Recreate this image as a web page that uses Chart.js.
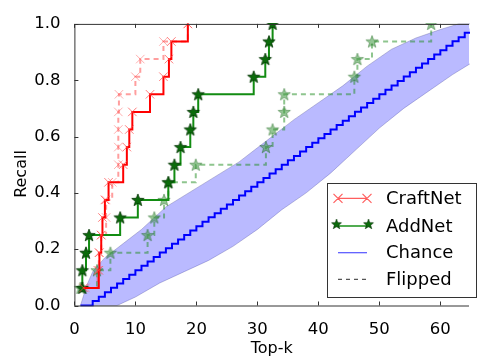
<!DOCTYPE html>
<html>
<head>
<meta charset="utf-8">
<script src="https://cdn.jsdelivr.net/npm/chart.js@4.4.1/dist/chart.umd.min.js"></script>
<style>
  html, body { margin: 0; padding: 0; background: #fff; }
  #wrap { width: 477px; height: 358px; }
</style>
</head>
<body>
<div id="wrap"><canvas id="chart" width="477" height="358"></canvas></div>
<script>
// tick labels
var kTicks = [0, 10, 20, 30, 40, 50, 60];
var recallTicks = [0, 0.2, 0.4, 0.6, 0.8, 1.0];

// recall levels (16 positives)
var recallLevels = [0.0625, 0.125, 0.1875, 0.25, 0.3125, 0.375, 0.4375, 0.5,
  0.5625, 0.625, 0.6875, 0.75, 0.8125, 0.875, 0.9375, 1.0];

// top-k at which each level is reached
var craftK     = [1.5, 4.0, 4.1, 4.4, 4.6, 5.0, 5.6, 8.0, 8.6, 9.0, 9.5, 12.4, 14.6, 15.5, 15.9, 18.6];
var craftFlipK = [1.8, 3.8, 4.0, 4.4, 5.2, 5.2, 6.2, 7.2, 7.2, 7.2, 7.2, 7.3, 10.0, 10.8, 14.6, 18.6];
var addK       = [1.3, 1.3, 1.9, 2.4, 7.5, 10.4, 15.4, 16.4, 17.4, 19.0, 19.5, 20.3, 29.4, 31.3, 31.9, 32.5];
var addFlipK   = [1.0, 3.7, 5.9, 12.0, 13.1, 14.7, 15.4, 19.9, 31.4, 32.5, 34.4, 34.4, 45.9, 46.4, 48.8, 58.5];

// chance staircase
var chanceK = [1, 2, 3, 4, 5, 6, 7, 8, 9, 10, 11, 12, 13, 14, 15, 16, 17, 18, 19, 20,
  21, 22, 23, 24, 25, 26, 27, 28, 29, 30, 31, 32, 33, 34, 35, 36, 37, 38, 39, 40,
  41, 42, 43, 44, 45, 46, 47, 48, 49, 50, 51, 52, 53, 54, 55, 56, 57, 58, 59, 60,
  61, 62, 63, 64, 65];
var chanceRecall = [0, 0, 0.016, 0.031, 0.047, 0.063, 0.078, 0.094, 0.109, 0.125,
  0.141, 0.156, 0.172, 0.188, 0.203, 0.219, 0.234, 0.25, 0.266, 0.281,
  0.297, 0.313, 0.328, 0.344, 0.359, 0.375, 0.391, 0.406, 0.422, 0.438,
  0.453, 0.469, 0.484, 0.5, 0.516, 0.531, 0.547, 0.563, 0.578, 0.594,
  0.609, 0.625, 0.641, 0.656, 0.672, 0.688, 0.703, 0.719, 0.734, 0.75,
  0.766, 0.781, 0.797, 0.813, 0.828, 0.844, 0.859, 0.875, 0.891, 0.906,
  0.922, 0.938, 0.953, 0.969, 0.984];

// chance band edges
var bandUpperK = [1, 2, 3, 5, 8, 11, 13, 15, 18, 21, 24, 27, 30, 33, 36, 40, 44, 48, 52, 56, 60, 63, 65];
var bandUpperRecall = [0.0, 0.07, 0.12, 0.17, 0.22, 0.27, 0.31, 0.35, 0.39, 0.43, 0.47, 0.51,
  0.56, 0.61, 0.66, 0.72, 0.78, 0.85, 0.91, 0.95, 0.98, 1.0, 1.0];
var bandLowerK = [1, 4, 7, 10, 14, 18, 22, 26, 30, 34, 38, 42, 46, 50, 54, 58, 62, 65];
var bandLowerRecall = [0.0, 0.0, 0.0, 0.03, 0.08, 0.12, 0.16, 0.21, 0.27, 0.34, 0.40,
  0.47, 0.55, 0.63, 0.70, 0.76, 0.82, 0.86];

var FONT = '"DejaVu Sans", sans-serif';

function pts(xs, ys) {
  return xs.map(function (x, i) { return { x: x, y: ys[i] }; });
}

// filled star marker like matplotlib '*'
function makeStar(fill, stroke) {
  var c = document.createElement('canvas');
  c.width = 16; c.height = 16;
  var g = c.getContext('2d');
  g.beginPath();
  for (var i = 0; i < 10; i++) {
    var r = i % 2 === 0 ? 6.5 : 2.7;
    var a = -Math.PI / 2 + i * Math.PI / 5;
    var px = 8 + r * Math.cos(a), py = 8.5 + r * Math.sin(a);
    if (i === 0) g.moveTo(px, py); else g.lineTo(px, py);
  }
  g.closePath();
  g.fillStyle = fill; g.fill();
  g.lineWidth = 0.8; g.strokeStyle = stroke; g.stroke();
  return c;
}
var starDark = makeStar('#0b6b0b', '#033303');
var starLight = makeStar('rgba(60,150,60,0.55)', 'rgba(0,80,0,0.45)');

var frame = {
  id: 'frame',
  afterDatasetsDraw: function (chart) {
    var ctx = chart.ctx, a = chart.chartArea;
    var xs = chart.scales.x, ys = chart.scales.y;
    ctx.save();
    ctx.strokeStyle = '#333';
    ctx.lineWidth = 1;
    ctx.beginPath();
    ctx.moveTo(a.right, a.top + 0.5); ctx.lineTo(a.left + 0.5, a.top + 0.5);
    ctx.lineTo(a.left + 0.5, a.bottom + 0.5); ctx.lineTo(a.right, a.bottom + 0.5);
    kTicks.forEach(function (v) {
      var px = Math.round(xs.getPixelForValue(v)) + 0.5;
      ctx.moveTo(px, a.bottom); ctx.lineTo(px, a.bottom - 4);
      ctx.moveTo(px, a.top); ctx.lineTo(px, a.top + 4);
    });
    recallTicks.forEach(function (v) {
      var py = Math.round(ys.getPixelForValue(v)) + 0.5;
      ctx.moveTo(a.left, py); ctx.lineTo(a.left + 4, py);
    });
    ctx.stroke();

    // y axis title
    ctx.fillStyle = '#000';
    ctx.font = '16px ' + FONT;
    ctx.textAlign = 'center';
    ctx.textBaseline = 'middle';
    ctx.translate(22, 174);
    ctx.rotate(-Math.PI / 2);
    ctx.fillText('Recall', 0, 0);
    ctx.restore();
  }
};

function drawX(ctx, x, y, r) {
  ctx.moveTo(x - r, y - r); ctx.lineTo(x + r, y + r);
  ctx.moveTo(x - r, y + r); ctx.lineTo(x + r, y - r);
}

var legendBox = {
  id: 'legendBox',
  afterDraw: function (chart) {
    var ctx = chart.ctx;
    var x0 = 327.5, y0 = 183.5, w = 149, h = 114;
    var lx1 = 338, lx2 = 367, tx = 386;
    var rows = [198.3, 226, 252.7, 279.3];
    ctx.save();
    ctx.fillStyle = '#fff';
    ctx.fillRect(x0, y0, w, h);
    ctx.strokeStyle = '#333';
    ctx.lineWidth = 1;
    ctx.strokeRect(x0, y0, w, h);

    // CraftNet
    ctx.strokeStyle = 'rgba(255,40,40,0.75)';
    ctx.lineWidth = 1.2;
    ctx.beginPath();
    ctx.moveTo(lx1, rows[0]); ctx.lineTo(lx2, rows[0]);
    drawX(ctx, lx1, rows[0], 4.5); drawX(ctx, lx2, rows[0], 4.5);
    ctx.stroke();
    // AddNet
    ctx.strokeStyle = '#179017';
    ctx.lineWidth = 1.5;
    ctx.beginPath();
    ctx.moveTo(lx1, rows[1]); ctx.lineTo(lx2, rows[1]);
    ctx.stroke();
    ctx.drawImage(starDark, lx1 - 8, rows[1] - 8.5, 13, 13);
    ctx.drawImage(starDark, lx2 - 5, rows[1] - 8.5, 13, 13);
    // Chance
    ctx.strokeStyle = 'rgba(40,40,255,0.8)';
    ctx.lineWidth = 1.2;
    ctx.beginPath();
    ctx.moveTo(lx1, rows[2]); ctx.lineTo(lx2, rows[2]);
    ctx.stroke();
    // Flipped
    ctx.strokeStyle = '#555';
    ctx.setLineDash([4, 4]);
    ctx.beginPath();
    ctx.moveTo(lx1, rows[3]); ctx.lineTo(lx2 + 2, rows[3]);
    ctx.stroke();
    ctx.setLineDash([]);

    ctx.fillStyle = '#000';
    ctx.font = '18px ' + FONT;
    ctx.textAlign = 'left';
    ctx.textBaseline = 'middle';
    ['CraftNet', 'AddNet', 'Chance', 'Flipped'].forEach(function (t, i) {
      ctx.fillText(t, tx, rows[i] + 1);
    });
    ctx.restore();
  }
};

new Chart(document.getElementById('chart'), {
  type: 'line',
  data: {
    datasets: [
      {
        label: 'CraftNet', data: pts(craftK, recallLevels), stepped: true,
        borderColor: '#ff0000', borderWidth: 2,
        pointStyle: 'crossRot', pointRadius: 6, pointBorderWidth: 1,
        pointBorderColor: 'rgba(255,70,70,0.7)', pointBackgroundColor: 'transparent',
        fill: false, order: 1, clip: 1
      },
      {
        label: 'AddNet', data: pts(addK, recallLevels), stepped: true,
        borderColor: '#128c12', borderWidth: 2,
        pointStyle: starDark, pointRadius: 6,
        fill: false, order: 2, clip: 1
      },
      {
        label: 'CraftNet flipped', data: pts(craftFlipK, recallLevels), stepped: true,
        borderColor: 'rgba(255,40,40,0.45)', borderWidth: 2, borderDash: [5, 4],
        pointStyle: 'crossRot', pointRadius: 6, pointBorderWidth: 1,
        pointBorderColor: 'rgba(255,80,80,0.45)', pointBackgroundColor: 'transparent',
        fill: false, order: 3, clip: 1
      },
      {
        label: 'AddNet flipped', data: pts(addFlipK, recallLevels), stepped: true,
        borderColor: 'rgba(30,140,30,0.5)', borderWidth: 2, borderDash: [5, 4],
        pointStyle: starLight, pointRadius: 6,
        fill: false, order: 4, clip: 1
      },
      {
        label: 'Chance', data: pts(chanceK, chanceRecall), stepped: true,
        borderColor: '#0000ff', borderWidth: 2, pointRadius: 0,
        fill: false, order: 5, clip: 1
      },
      {
        label: 'band upper', data: pts(bandUpperK, bandUpperRecall),
        borderColor: 'rgba(90,90,150,0.45)', borderWidth: 0.8, pointRadius: 0,
        backgroundColor: 'rgba(0,0,255,0.27)', fill: '+1', order: 6, clip: 1
      },
      {
        label: 'band lower', data: pts(bandLowerK, bandLowerRecall),
        borderColor: 'rgba(90,90,150,0.45)', borderWidth: 0.8, pointRadius: 0,
        fill: false, order: 7, clip: 1
      }
    ]
  },
  options: {
    responsive: false,
    animation: false,
    devicePixelRatio: 1,
    layout: { padding: { top: 13, right: 0, left: 0, bottom: 0 } },
    plugins: { legend: { display: false }, tooltip: { enabled: false } },
    scales: {
      x: {
        type: 'linear', min: 0, max: 64.7,
        afterBuildTicks: function (s) { s.ticks = kTicks.map(function (v) { return { value: v }; }); },
        afterFit: function (s) { s.height = 52.5; },
        grid: { display: false, drawTicks: false },
        border: { display: false },
        ticks: { color: '#000', font: { family: FONT, size: 16.5 }, padding: 14, maxRotation: 0 },
        title: { display: true, text: 'Top-k', color: '#000', font: { family: FONT, size: 16 }, padding: { top: 0, bottom: 0 } }
      },
      y: {
        type: 'linear', min: 0, max: 1,
        afterBuildTicks: function (s) { s.ticks = recallTicks.map(function (v) { return { value: v }; }); },
        afterFit: function (s) { s.width = 74.4; },
        grid: { display: false, drawTicks: false },
        border: { display: false },
        ticks: {
          color: '#000', font: { family: FONT, size: 16.5 }, padding: 14,
          callback: function (v) { return Number(v).toFixed(1); }
        }
      }
    }
  },
  plugins: [frame, legendBox]
});
</script>
</body>
</html>
